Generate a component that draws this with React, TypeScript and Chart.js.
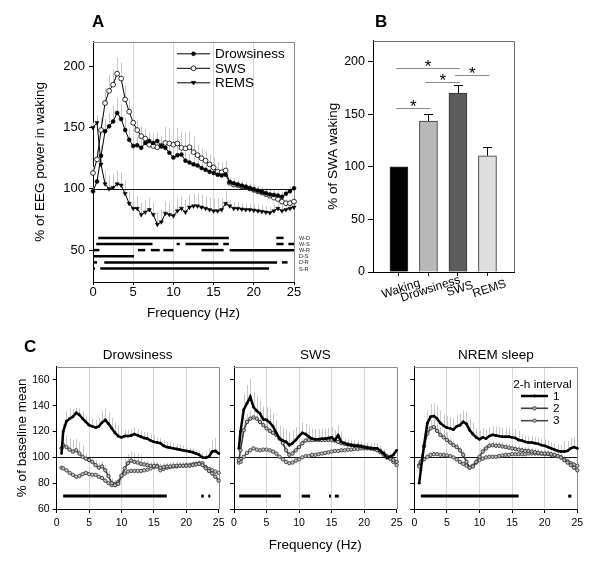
import React, { useEffect, useRef } from 'react';
import { Chart, registerables } from 'chart.js';

Chart.register(...registerables);

const FONT = "'Liberation Sans', Arial, Helvetica, sans-serif";

// ---------------- Panel A data ----------------
const FREQ_A = [0, 0.5, 1, 1.5, 2, 2.5, 3, 3.5, 4, 4.5, 5, 5.5, 6, 6.5, 7, 7.5, 8, 8.5, 9, 9.5, 10, 10.5, 11, 11.5, 12, 12.5, 13, 13.5, 14, 14.5, 15, 15.5, 16, 16.5, 17, 17.5, 18, 18.5, 19, 19.5, 20, 20.5, 21, 21.5, 22, 22.5, 23, 23.5, 24, 24.5, 25];
const A_DROWSINESS = [98, 106, 127, 147, 151, 155, 162, 157, 148, 140, 135, 135.5, 133.5, 137.5, 139, 137.5, 139, 135, 133.5, 129.5, 125.5, 127.5, 128, 123, 121.5, 120, 119, 117, 115.5, 114, 113, 111.5, 111, 111.5, 105.5, 104.5, 103.5, 102.5, 101.5, 100.5, 99.5, 98.5, 97.5, 96.5, 95.5, 95, 94.5, 93.5, 96, 98, 100.5];
const A_SWS = [113, 124, 148, 170, 180, 185, 194, 190, 173, 163, 154, 148, 143, 141, 136, 135, 134, 135, 137.5, 137, 136, 137, 133.5, 133, 134, 130, 127.5, 125, 123, 120, 117.5, 114, 113.5, 115, 105, 103.5, 103, 102, 101.3, 100.3, 99.2, 98, 97, 95.7, 94.4, 92.8, 91.7, 89.6, 88.3, 88.3, 89.6];
const A_REMS = [150, 154, 120, 104, 100, 101, 104, 103, 96, 88, 84, 84, 79, 81, 83, 79, 71, 73, 80, 79, 78, 82, 84, 81, 85, 86, 86, 85, 84, 83, 82, 82, 83, 88, 86, 84, 84, 83.5, 83, 83, 82.5, 82, 81.5, 81, 80.5, 82, 84, 82, 83, 84, 85];
const A_DROWSINESS_ERR = [3, 5, 8, 10, 11, 12, 12, 12, 10, 9, 8, 7, 7, 7, 7, 7, 7, 7, 7, 7, 7, 7, 7, 7, 7, 7, 7, 7, 7, 7, 7, 7, 7, 7, 4, 4, 4, 4, 4, 4, 4, 4, 4, 4, 4, 4, 4, 4, 4, 4, 4];
const A_SWS_ERR = [5, 8, 10, 12, 13, 13, 13, 13, 12, 10, 8, 8, 8, 8, 8, 8, 8, 8, 13, 13, 13, 13, 13, 13, 13, 13, 8, 8, 8, 8, 8, 8, 8, 8, 3, 3, 3, 3, 3, 3, 3, 3, 3, 3, 3, 3, 3, 3, 3, 3, 3];
const A_REMS_ERR = [4, 6, 10, 11, 11, 11, 11, 11, 11, 10, 10, 10, 10, 10, 10, 10, 10, 10, 10, 10, 10, 10, 10, 10, 10, 10, 10, 10, 10, 10, 10, 10, 10, 10, 5, 5, 5, 5, 5, 5, 5, 5, 5, 5, 5, 5, 5, 5, 5, 5, 5];
const A_Y_TICKS = [50, 100, 150, 200];
const X_TICKS = [0, 5, 10, 15, 20, 25];
const A_SIG_LABELS = ['W-D', 'W-S', 'W-R', 'D-S', 'D-R', 'S-R'];
const A_SIG_LEVELS = [60, 55, 50, 45, 40, 35];
const A_SIG_SEGMENTS = [
  [[0.65, 16.9], [22.8, 23.7]],
  [[0.4, 7.4], [10.4, 10.8], [11.5, 15.6], [16.2, 16.9], [22.8, 23.7], [24.3, 25]],
  [[0, 0.8], [5.6, 6.5], [7.2, 8.3], [8.75, 10], [13.5, 16.25], [17, 25]],
  [[0.1, 5.1]],
  [[0, 0.5], [1.4, 22.9], [23.5, 24.2]],
  [[0, 0.2], [0.9, 21.9]],
];

// ---------------- Panel B data ----------------
const B_CATEGORIES = ['Waking', 'Drowsiness', 'SWS', 'REMS'];
const B_VALUES = [100, 143.5, 170, 110.5];
const B_ERRORS = [0, 6.5, 7.5, 8];
const B_Y_TICKS = [0, 50, 100, 150, 200];
const B_SIG_FROM = [0, 0, 1, 2];
const B_SIG_TO = [1, 2, 2, 3];
const B_SIG_LEVEL = [156, 194, 181, 187];

// ---------------- Panel C data ----------------
const FREQ_C = [0.75, 1, 1.5, 2, 2.5, 3, 3.5, 4, 4.5, 5, 5.5, 6, 6.5, 7, 7.5, 8, 8.5, 9, 9.5, 10, 10.5, 11, 11.5, 12, 12.5, 13, 13.5, 14, 14.5, 15, 15.5, 16, 16.5, 17, 17.5, 18, 18.5, 19, 19.5, 20, 20.5, 21, 21.5, 22, 22.5, 23, 23.5, 24, 24.5, 25];
const C_Y_TICKS = [60, 80, 100, 120, 140, 160];
const C_INTERVALS = ['1', '2', '3'];
const C_SIG_LEVEL = 70;

const C_DROWS_1 = [103, 120, 128, 130, 131.5, 134.5, 133, 130, 127.5, 125, 124, 123, 124, 127, 129, 126, 122.5, 119, 116.5, 115.5, 116.5, 116.5, 117, 118, 117, 116, 115, 114.5, 113, 112, 111.5, 111, 109, 108, 107.5, 107, 106.5, 106, 105.5, 105, 104.5, 104, 103, 102, 100, 99.7, 100.5, 104.5, 105, 103];
const C_DROWS_2 = [107, 109.5, 108, 106, 104.5, 105.5, 103, 100.5, 99, 98, 96.5, 94, 92, 93, 90, 85.5, 80, 78.5, 79.5, 86, 91.5, 95.5, 97.5, 96.5, 96, 95, 94.5, 94, 93.5, 93.5, 93, 92, 92.5, 93, 93, 93.5, 93.5, 93.5, 93.5, 93.5, 93.5, 94, 94.5, 95, 94, 91.5, 89.5, 87.5, 85, 82];
const C_DROWS_3 = [92, 91.5, 90, 88, 86.5, 85, 85.5, 87, 88, 87, 86.5, 86.5, 85, 84, 82, 80, 78.5, 79.5, 81, 85.5, 87.5, 89, 89.5, 89.5, 89.5, 89.5, 90, 90.5, 91.5, 92.5, 93.5, 90, 91, 92, 92.5, 93, 93, 93.5, 93.5, 94, 94, 94.5, 95, 95.5, 95.5, 92.5, 91, 90, 89, 88];
const C_DROWS_1_ERR = [3, 6, 8, 8, 6, 4, 5, 5, 5, 6, 6, 6, 7, 9, 9, 9, 8, 8, 8, 7, 5, 5, 5, 5, 5, 5, 5, 5, 5, 5, 4, 4, 4, 4, 4, 4, 4, 4, 4, 4, 3, 3, 3, 3, 4, 5, 7, 9, 10, 10];
const C_DROWS_2_ERR = [5, 9, 9, 9, 9, 9, 9, 9, 4, 4, 4, 4, 4, 4, 4, 4, 4, 4, 4, 7, 7, 7, 7, 7, 7, 7, 3, 3, 3, 3, 3, 3, 3, 3, 3, 3, 3, 3, 3, 3, 3, 3, 3, 3, 3, 3, 3, 3, 3, 3];
const C_DROWS_SIG = [[1, 17], [22.3, 22.7], [23.4, 23.7]];

const C_SWS_1 = [107, 120, 137, 142, 147, 139, 136, 134, 129.5, 129, 127, 124, 119, 114.5, 113, 112, 109.5, 111, 113.5, 116.5, 119, 118, 116, 114.5, 114, 114, 114.5, 114.5, 115, 115.5, 113.5, 117, 112, 111, 110, 109.5, 109, 109, 108.5, 108, 107.5, 107, 107, 107, 105, 103, 99.5, 100.5, 102, 105.5];
const C_SWS_2 = [98, 105.5, 121, 127.5, 130, 131, 130, 127.5, 125, 122.5, 120.5, 119, 117.5, 114.5, 111, 105.5, 102, 103, 105.5, 108, 111, 113, 113.5, 113.5, 113.5, 113.5, 113.5, 113.5, 113.5, 113.5, 113, 112, 111, 110.5, 110, 109.5, 109, 109, 108.5, 108, 107.5, 107, 106.5, 105.5, 104, 102, 100.5, 99, 98, 96.5];
const C_SWS_3 = [96, 96.5, 100.5, 103.5, 105.5, 107, 106, 105.5, 106, 106, 105.5, 104.5, 103, 100.5, 98.5, 96.5, 95.5, 96, 97.5, 98.5, 100, 101, 101, 102, 102, 102.5, 103, 103.5, 104, 104.5, 105, 105, 105.5, 105.5, 106, 106, 106.5, 106.5, 107, 107, 107, 107, 106.5, 106, 105, 103, 101, 99, 96.5, 94];
const C_SWS_1_ERR = [4, 8, 12, 14, 14, 12, 12, 10, 10, 10, 10, 10, 10, 10, 10, 10, 10, 10, 10, 8, 8, 8, 8, 8, 8, 8, 8, 8, 8, 8, 8, 8, 8, 4, 4, 4, 4, 4, 4, 4, 4, 4, 4, 4, 4, 3, 3, 3, 3, 3];
const C_SWS_2_ERR = [3, 6, 6, 6, 6, 6, 6, 6, 6, 6, 3, 3, 3, 3, 3, 3, 3, 3, 3, 3, 3, 3, 3, 3, 3, 3, 3, 3, 3, 3, 3, 3, 3, 3, 3, 3, 3, 3, 3, 3, 3, 3, 3, 3, 3, 3, 3, 3, 3, 3];
const C_SWS_SIG = [[0.8, 7.2], [10.4, 11.7], [14.6, 14.9], [15.5, 16.1]];

const C_NREM_1 = [80, 90, 109.5, 126.5, 131.5, 132, 130, 126.5, 124.5, 123, 122.5, 121.5, 124, 125, 127.5, 126, 121, 118, 115.5, 114, 115.5, 114.5, 116.5, 117.5, 117, 116.5, 116, 116, 116, 115.5, 115, 113.5, 113, 112, 111.5, 111.5, 111, 110.5, 109.5, 109, 108, 107, 106, 105, 104.5, 104.5, 105, 107, 108, 107];
const C_NREM_2 = [93, 96.5, 108.5, 118.5, 122.5, 123.5, 120.5, 117.5, 115.5, 113.5, 111.5, 109.5, 108, 105.5, 102, 96.5, 92, 93, 96.5, 100.5, 104.5, 107, 109, 109.5, 109, 109, 108.5, 108, 107.5, 107, 106.5, 106, 105.5, 105, 105, 104.5, 104, 103.5, 103, 103, 103, 102.5, 102, 101, 100, 98, 96, 94, 92, 90];
const C_NREM_3 = [94, 96.5, 98.5, 100.5, 102, 102.5, 102.5, 102, 102, 101.5, 101, 100, 98.5, 96.5, 95, 93.5, 92, 93.5, 96, 98, 99, 100, 100.5, 100.5, 100.5, 101, 101.5, 102, 102, 102.5, 102.5, 102.5, 102.5, 102.5, 103, 103, 103, 103, 103, 102.5, 102.5, 102, 101.5, 101, 100, 98.5, 97, 95.5, 94.5, 93.5];
const C_NREM_1_ERR = [3, 5, 8, 10, 10, 10, 10, 10, 9, 9, 9, 9, 9, 9, 9, 9, 9, 9, 7, 7, 7, 7, 7, 7, 7, 7, 7, 7, 7, 7, 7, 7, 5, 5, 5, 5, 5, 5, 5, 5, 5, 5, 5, 5, 5, 8, 8, 8, 8, 8];
const C_NREM_2_ERR = [3, 6, 6, 6, 6, 6, 6, 6, 6, 6, 3, 3, 3, 3, 3, 3, 3, 3, 3, 3, 3, 3, 3, 3, 3, 3, 3, 3, 3, 3, 3, 3, 3, 3, 3, 3, 3, 3, 3, 3, 3, 3, 3, 3, 3, 3, 3, 3, 3, 3];
const C_NREM_SIG = [[1, 16], [23.6, 24.1]];

// ---------------- helpers ----------------
const font = (size: number, weight: string = 'normal') => ({ family: FONT, size, weight });

function xFreqScale(height: number, size: number, tickLen: number, tickPad: number, title?: { text: string; padBottom: number }) {
  return {
    type: 'linear',
    min: 0,
    max: 25,
    offset: false,
    afterBuildTicks: (s: any) => { s.ticks = X_TICKS.map((v) => ({ value: v })); },
    afterFit: (s: any) => { s.height = height; },
    grid: {
      offset: false,
      drawOnChartArea: true,
      drawTicks: true,
      tickLength: tickLen,
      tickColor: '#000',
      lineWidth: 1,
      color: (c: any) => (c.tick && (c.tick.value === 0 || c.tick.value === 25) ? 'rgba(0,0,0,0)' : '#d6d6d6'),
    },
    border: { display: true, color: '#000', width: 1 },
    ticks: { font: font(size), color: '#000', padding: tickPad, maxRotation: 0, minRotation: 0, autoSkip: false },
    title: title
      ? { display: true, text: title.text, font: font(13.5), color: '#000', padding: { top: 0, bottom: title.padBottom } }
      : { display: false },
  };
}

function yScale(min: number, max: number, ticks: number[], width: number, size: number, showLabels: boolean, tickLen: number, tickPad: number, title?: { text: string; padTop: number }) {
  return {
    type: 'linear',
    min,
    max,
    afterBuildTicks: (s: any) => { s.ticks = ticks.map((v) => ({ value: v })); },
    afterFit: (s: any) => { s.width = width; },
    grid: { drawOnChartArea: false, drawTicks: true, tickLength: tickLen, color: '#000' },
    border: { display: true, color: '#000', width: 1 },
    ticks: { display: showLabels, font: font(size), color: '#000', padding: tickPad },
    title: title
      ? { display: true, text: title.text, font: font(13.5), color: '#000', padding: { top: title.padTop, bottom: 0 } }
      : { display: false },
  };
}

const errorBarsPlugin = {
  id: 'errorBars',
  beforeDatasetsDraw(chart: any) {
    const { ctx, scales } = chart;
    const x = scales.x, y = scales.y;
    ctx.save();
    ctx.strokeStyle = '#c8c8c8';
    ctx.lineWidth = 1;
    chart.data.datasets.forEach((ds: any) => {
      if (!ds.errs) return;
      ds.data.forEach((p: any, i: number) => {
        const e = ds.errs[i];
        if (!e) return;
        const px = Math.round(x.getPixelForValue(p.x)) + 0.5;
        ctx.beginPath();
        ctx.moveTo(px, y.getPixelForValue(p.y));
        ctx.lineTo(px, y.getPixelForValue(p.y + e));
        ctx.stroke();
      });
    });
    ctx.restore();
  },
};

function baselinePlugin(value: number) {
  return {
    id: 'baseline',
    beforeDatasetsDraw(chart: any) {
      const { ctx, chartArea, scales } = chart;
      const py = Math.round(scales.y.getPixelForValue(value)) + 0.5;
      ctx.save();
      ctx.strokeStyle = '#111';
      ctx.lineWidth = 1;
      ctx.beginPath();
      ctx.moveTo(chartArea.left, py);
      ctx.lineTo(chartArea.right, py);
      ctx.stroke();
      ctx.restore();
    },
  };
}

function framePlugin(color: string) {
  return {
    id: 'frame',
    beforeDatasetsDraw(chart: any) {
      const { ctx, chartArea } = chart;
      const { left, right, top, bottom } = chartArea;
      ctx.save();
      ctx.strokeStyle = color;
      ctx.lineWidth = 1;
      ctx.beginPath();
      ctx.moveTo(left, Math.round(top) + 0.5);
      ctx.lineTo(Math.round(right) + 0.5, Math.round(top) + 0.5);
      ctx.lineTo(Math.round(right) + 0.5, bottom);
      ctx.stroke();
      ctx.restore();
    },
  };
}

function sigRowsPlugin(levels: number[], segments: number[][][], labels: string[] | null, lineWidth: number) {
  return {
    id: 'sigRows',
    beforeDatasetsDraw(chart: any) {
      const { ctx, chartArea, scales } = chart;
      const x = scales.x, y = scales.y;
      ctx.save();
      ctx.strokeStyle = '#000';
      ctx.lineWidth = lineWidth;
      ctx.lineCap = 'butt';
      levels.forEach((lv, r) => {
        const py = y.getPixelForValue(lv);
        segments[r].forEach(([a, b]) => {
          ctx.beginPath();
          ctx.moveTo(x.getPixelForValue(a), py);
          ctx.lineTo(Math.max(x.getPixelForValue(b), x.getPixelForValue(a) + 2), py);
          ctx.stroke();
        });
        if (labels) {
          ctx.fillStyle = '#222';
          ctx.font = `5.5px ${FONT}`;
          ctx.textBaseline = 'middle';
          ctx.textAlign = 'left';
          ctx.fillText(labels[r], chartArea.right + 5, py + 0.5);
        }
      });
      ctx.restore();
    },
  };
}

function drawMarker(ctx: any, ds: any, x: number, y: number) {
  const r = ds.pointRadius;
  ctx.beginPath();
  if (ds.pointStyle === 'triangle') {
    ctx.moveTo(x - r, y - r * 0.6);
    ctx.lineTo(x + r, y - r * 0.6);
    ctx.lineTo(x, y + r * 0.95);
    ctx.closePath();
  } else {
    ctx.arc(x, y, r, 0, Math.PI * 2);
  }
  ctx.fillStyle = ds.pointBackgroundColor;
  ctx.fill();
  if (ds.pointBorderWidth) {
    ctx.strokeStyle = ds.pointBorderColor;
    ctx.lineWidth = ds.pointBorderWidth;
    ctx.stroke();
  }
}

function legendPlugin(o: { dx1: number; dx2: number; dtext: number; dys: number[]; size: number; title?: string; tdx?: number; tdy?: number }) {
  return {
    id: 'customLegend',
    afterDatasetsDraw(chart: any) {
      const { ctx, chartArea } = chart;
      const L = chartArea.left, T = chartArea.top;
      ctx.save();
      ctx.font = `${o.size}px ${FONT}`;
      ctx.textBaseline = 'middle';
      ctx.textAlign = 'left';
      if (o.title) {
        ctx.fillStyle = '#000';
        ctx.fillText(o.title, L + (o.tdx || 0), T + (o.tdy || 0));
      }
      chart.data.datasets.forEach((ds: any, i: number) => {
        if (!ds.label || i >= o.dys.length) return;
        const yy = T + o.dys[i];
        ctx.strokeStyle = ds.borderColor;
        ctx.lineWidth = ds.borderWidth;
        ctx.beginPath();
        ctx.moveTo(L + o.dx1, yy);
        ctx.lineTo(L + o.dx2, yy);
        ctx.stroke();
        drawMarker(ctx, ds, L + (o.dx1 + o.dx2) / 2, yy);
        ctx.fillStyle = '#000';
        ctx.fillText(ds.label, L + o.dtext, yy + 0.5);
      });
      ctx.restore();
    },
  };
}

function panelTitlePlugin(text: string) {
  return {
    id: 'panelTitle',
    afterDraw(chart: any) {
      const { ctx, chartArea } = chart;
      ctx.save();
      ctx.font = `13.5px ${FONT}`;
      ctx.fillStyle = '#000';
      ctx.textAlign = 'center';
      ctx.textBaseline = 'middle';
      ctx.fillText(text, (chartArea.left + chartArea.right) / 2, chartArea.top - 11.5);
      ctx.restore();
    },
  };
}

const baseOptions = (padding: any) => ({
  animation: false,
  responsive: false,
  events: [],
  layout: { padding },
  plugins: { legend: { display: false }, tooltip: { enabled: false }, title: { display: false } },
});

// ---------------- Panel A ----------------
function makeA() {
  const pts = (vals: number[]) => FREQ_A.map((f, i) => ({ x: f, y: vals[i] }));
  return {
    type: 'line',
    data: {
      datasets: [
        { label: 'Drowsiness', data: pts(A_DROWSINESS), errs: A_DROWSINESS_ERR, borderColor: '#000', borderWidth: 1, pointStyle: 'circle', pointRadius: 2, pointBackgroundColor: '#000', pointBorderColor: '#000', pointBorderWidth: 0.5, tension: 0, clip: false },
        { label: 'SWS', data: pts(A_SWS), errs: A_SWS_ERR, borderColor: '#000', borderWidth: 1, pointStyle: 'circle', pointRadius: 2.4, pointBackgroundColor: '#fff', pointBorderColor: '#000', pointBorderWidth: 0.8, tension: 0, clip: false },
        { label: 'REMS', data: pts(A_REMS), errs: A_REMS_ERR, borderColor: '#000', borderWidth: 1, pointStyle: 'triangle', pointRotation: 180, pointRadius: 2.4, pointBackgroundColor: '#000', pointBorderColor: '#000', pointBorderWidth: 0.5, tension: 0, clip: false },
      ],
    },
    options: {
      ...baseOptions({ top: 7, right: 36, bottom: 0, left: 0 }),
      scales: {
        x: xFreqScale(48, 13, 3, 0, { text: 'Frequency (Hz)', padBottom: 9 }),
        y: yScale(24, 220, A_Y_TICKS, 93, 13, true, 4, 4, { text: '% of EEG power in waking', padTop: 32 }),
      },
    },
    plugins: [
      errorBarsPlugin,
      sigRowsPlugin(A_SIG_LEVELS, A_SIG_SEGMENTS, A_SIG_LABELS, 2.5),
      baselinePlugin(100),
      framePlugin('#8c8c8c'),
      legendPlugin({ dx1: 84, dx2: 117, dtext: 122, dys: [12, 26.5, 41], size: 13.5 }),
    ],
  };
}

// ---------------- Panel B ----------------
const barExtrasPlugin = {
  id: 'barExtras',
  afterDatasetsDraw(chart: any) {
    const { ctx, chartArea, scales } = chart;
    const x = scales.x, y = scales.y;
    ctx.save();
    ctx.strokeStyle = '#000';
    ctx.lineWidth = 1;
    B_VALUES.forEach((v, i) => {
      const e = B_ERRORS[i];
      if (!e) return;
      const px = Math.round(x.getPixelForValue(i)) + 0.5;
      const y0 = y.getPixelForValue(v);
      const y1 = Math.round(y.getPixelForValue(v + e)) + 0.5;
      ctx.beginPath();
      ctx.moveTo(px, y0);
      ctx.lineTo(px, y1);
      ctx.moveTo(px - 4.5, y1);
      ctx.lineTo(px + 4.5, y1);
      ctx.stroke();
    });
    ctx.strokeStyle = '#8a8a8a';
    ctx.font = `17px ${FONT}`;
    ctx.fillStyle = '#000';
    ctx.textAlign = 'center';
    ctx.textBaseline = 'alphabetic';
    B_SIG_FROM.forEach((a, k) => {
      const b = B_SIG_TO[k];
      const py = Math.round(y.getPixelForValue(B_SIG_LEVEL[k])) + 0.5;
      const xa = x.getPixelForValue(a) - 3;
      const xb = x.getPixelForValue(b) + 2;
      ctx.beginPath();
      ctx.moveTo(xa, py);
      ctx.lineTo(xb, py);
      ctx.stroke();
      ctx.fillText('*', (xa + xb) / 2, py + 3.5);
    });
    ctx.font = `12px ${FONT}`;
    ctx.textBaseline = 'middle';
    B_CATEGORIES.forEach((c, i) => {
      const px = x.getPixelForValue(i);
      ctx.save();
      ctx.translate(px + 2, chartArea.bottom + 17);
      ctx.rotate((-18 * Math.PI) / 180);
      ctx.fillText(c, 0, 0);
      ctx.restore();
    });
    ctx.restore();
  },
};

function makeB() {
  return {
    type: 'bar',
    data: {
      datasets: [
        {
          data: B_VALUES.map((v, i) => ({ x: i, y: v })),
          backgroundColor: ['#000000', '#b8b8b8', '#5c5c5c', '#dedede'],
          borderColor: '#333',
          borderWidth: 1,
          barThickness: 18,
        },
      ],
    },
    options: {
      ...baseOptions({ top: 7, right: 16, bottom: 0, left: 0 }),
      scales: {
        x: {
          type: 'linear',
          min: -0.88,
          max: 3.9,
          offset: false,
          afterBuildTicks: (s: any) => { s.ticks = B_CATEGORIES.map((_, i) => ({ value: i })); },
          afterFit: (s: any) => { s.height = 58; },
          grid: { offset: false, drawOnChartArea: false, drawTicks: true, tickLength: 4, color: '#000' },
          border: { display: true, color: '#000', width: 1 },
          ticks: { display: false },
        },
        y: yScale(0, 220, B_Y_TICKS, 53, 12.5, true, 5, 3, { text: '% of SWA waking', padTop: 5 }),
      },
    },
    plugins: [framePlugin('#6a6a6a'), barExtrasPlugin],
  };
}

// ---------------- Panel C ----------------
function makeC(p: {
  title: string;
  s: number[][];
  e1: number[];
  e2: number[];
  sig: number[][];
  yWidth: number;
  padRight: number;
  yLabels: boolean;
  yTitle?: { text: string; padTop: number };
  xTitle?: { text: string; padBottom: number };
  legend?: boolean;
}) {
  const pts = (vals: number[]) => FREQ_C.map((f, i) => ({ x: f, y: vals[i] }));
  const plugins: any[] = [
    errorBarsPlugin,
    sigRowsPlugin([C_SIG_LEVEL], [p.sig], null, 3),
    baselinePlugin(100),
    framePlugin('#8c8c8c'),
    panelTitlePlugin(p.title),
  ];
  if (p.legend) {
    plugins.push(legendPlugin({ dx1: 106.7, dx2: 133.7, dtext: 138.7, dys: [29.3, 41.6, 54], size: 11.8, title: '2-h interval', tdx: 99, tdy: 18.3 }));
  }
  return {
    type: 'line',
    data: {
      datasets: [
        { label: C_INTERVALS[0], data: pts(p.s[0]), errs: p.e1, borderColor: '#000', borderWidth: 2.5, pointStyle: 'circle', pointRadius: 1.4, pointBackgroundColor: '#000', pointBorderColor: '#000', pointBorderWidth: 0, tension: 0, clip: false },
        { label: C_INTERVALS[1], data: pts(p.s[1]), errs: p.e2, borderColor: '#3f3f3f', borderWidth: 1.6, pointStyle: 'circle', pointRadius: 1.7, pointBackgroundColor: '#bdbdbd', pointBorderColor: '#3f3f3f', pointBorderWidth: 1, tension: 0, clip: false },
        { label: C_INTERVALS[2], data: pts(p.s[2]), borderColor: '#4a4a4a', borderWidth: 1.6, pointStyle: 'circle', pointRadius: 1.7, pointBackgroundColor: '#c4c4c4', pointBorderColor: '#4a4a4a', pointBorderWidth: 1, tension: 0, clip: false },
      ],
    },
    options: {
      ...baseOptions({ top: 26.7, right: p.padRight, bottom: 0, left: 0 }),
      scales: {
        x: xFreqScale(46, 10.5, 4, 3.5, p.xTitle),
        y: yScale(60, 170.3, C_Y_TICKS, p.yWidth, 10.5, p.yLabels, 4, 3, p.yTitle),
      },
    },
    plugins,
  };
}

const makeC1 = () =>
  makeC({ title: 'Drowsiness', s: [C_DROWS_1, C_DROWS_2, C_DROWS_3], e1: C_DROWS_1_ERR, e2: C_DROWS_2_ERR, sig: C_DROWS_SIG, yWidth: 56.7, padRight: 9, yLabels: true, yTitle: { text: '% of baseline mean', padTop: 14 } });
const makeC2 = () =>
  makeC({ title: 'SWS', s: [C_SWS_1, C_SWS_2, C_SWS_3], e1: C_SWS_1_ERR, e2: C_SWS_2_ERR, sig: C_SWS_SIG, yWidth: 8, padRight: 9, yLabels: false, xTitle: { text: 'Frequency (Hz)', padBottom: 2 } });
const makeC3 = () =>
  makeC({ title: 'NREM sleep', s: [C_NREM_1, C_NREM_2, C_NREM_3], e1: C_NREM_1_ERR, e2: C_NREM_2_ERR, sig: C_NREM_SIG, yWidth: 9.3, padRight: 22.7, yLabels: false, legend: true });

function ChartBox({ left, top, width, height, make }: { left: number; top: number; width: number; height: number; make: () => any }) {
  const ref = useRef<HTMLCanvasElement | null>(null);
  useEffect(() => {
    if (!ref.current) return;
    const chart = new Chart(ref.current, make());
    return () => chart.destroy();
  }, [make]);
  return <canvas ref={ref} width={width} height={height} style={{ position: 'absolute', left, top, width, height }} />;
}

const letterStyle = (left: number, top: number): React.CSSProperties => ({
  position: 'absolute',
  left,
  top,
  fontFamily: FONT,
  fontWeight: 'bold',
  fontSize: 17,
  lineHeight: '17px',
  color: '#000',
});

export default function App() {
  return (
    <div style={{ position: 'absolute', left: 0, top: 0, width: 600, height: 566, background: '#fff', overflow: 'hidden' }}>
      <ChartBox left={0} top={30} width={330} height={300} make={makeA} />
      <ChartBox left={320} top={30} width={210} height={300} make={makeB} />
      <ChartBox left={0} top={340} width={228} height={215} make={makeC1} />
      <ChartBox left={226} top={340} width={180} height={215} make={makeC2} />
      <ChartBox left={405} top={340} width={195} height={215} make={makeC3} />
      <div style={letterStyle(92, 13)}>A</div>
      <div style={letterStyle(375, 13)}>B</div>
      <div style={letterStyle(24, 338)}>C</div>
    </div>
  );
}
